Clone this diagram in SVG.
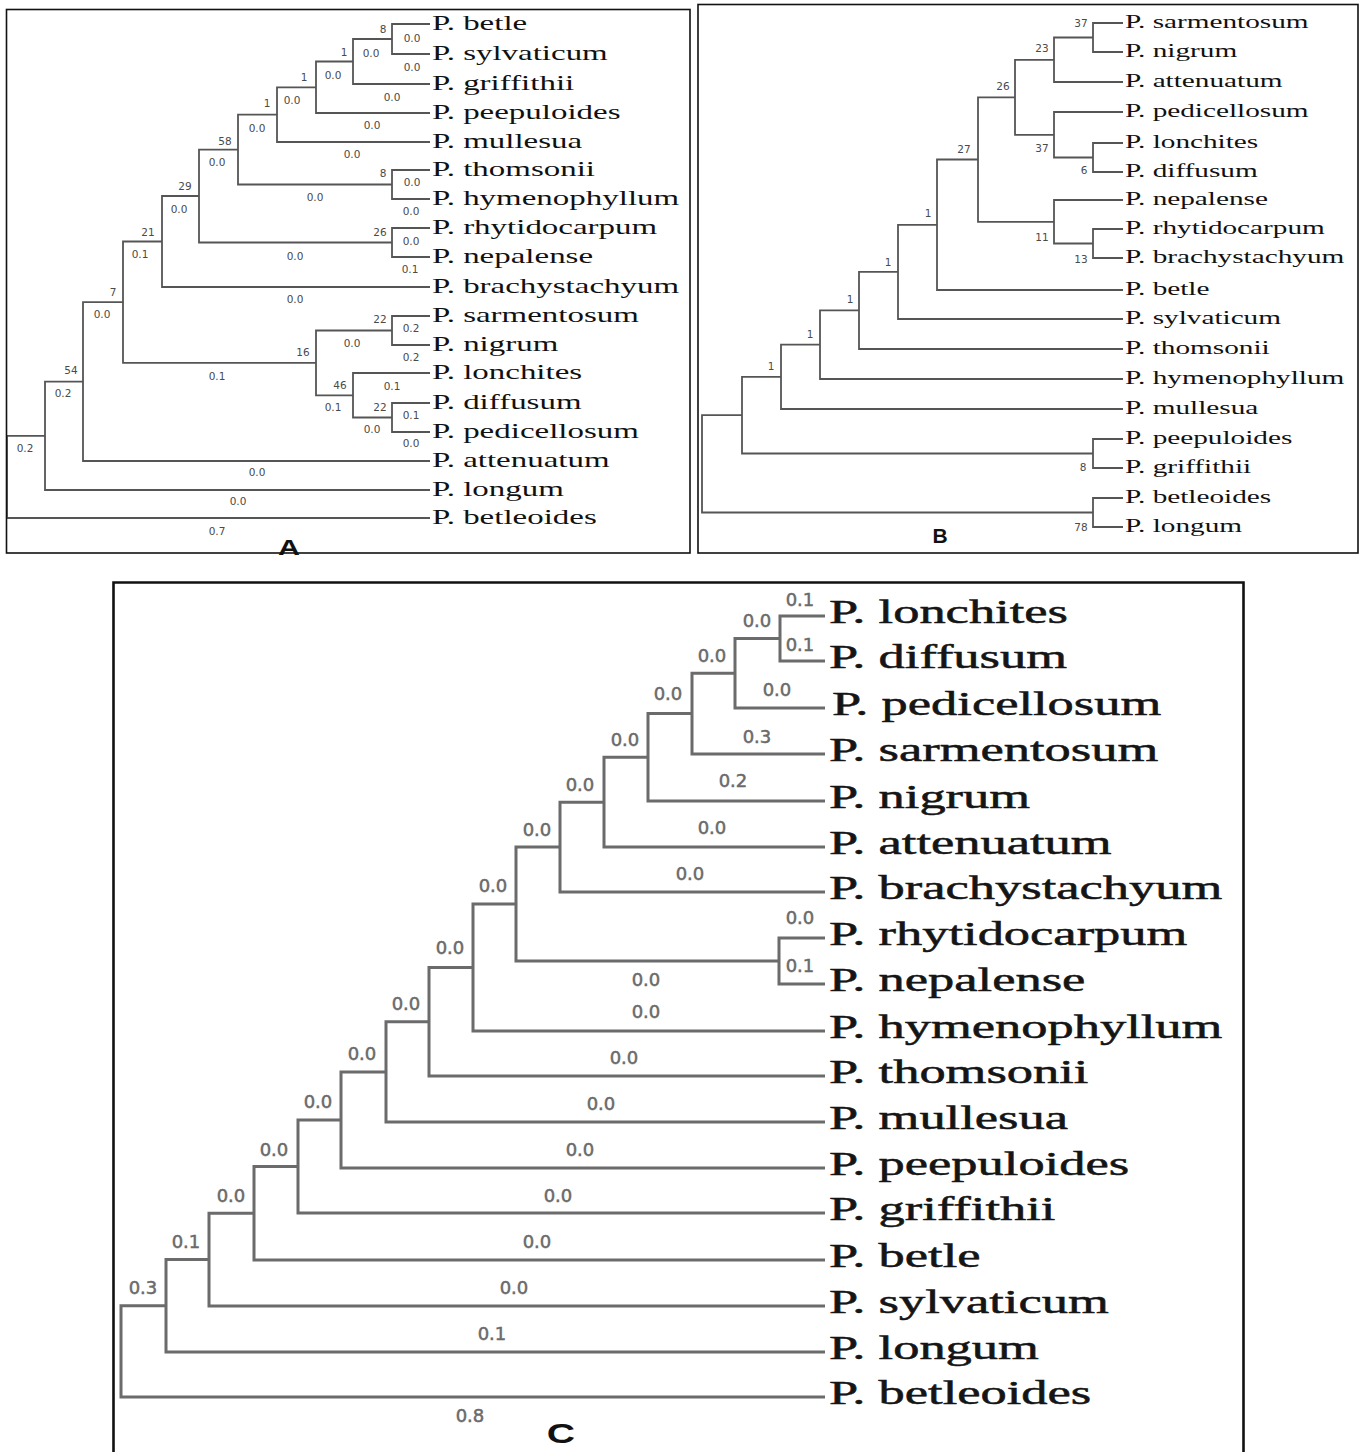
<svg xmlns="http://www.w3.org/2000/svg" width="1363" height="1452" viewBox="0 0 1363 1452">
<style>
.bg{fill:#fff}
.frame{fill:none;stroke:#111;stroke-width:1.6}
.framec{fill:none;stroke:#111;stroke-width:2.6}
.ea{fill:none;stroke:#555;stroke-width:1.8}
.ec{fill:none;stroke:#6b6b6b;stroke-width:3}
.ta{font-family:"Liberation Serif",serif;font-size:21px;fill:#111}
.tb{font-family:"Liberation Serif",serif;font-size:19px;fill:#111}
.tc{font-family:"Liberation Serif",serif;font-size:33px;fill:#151515;stroke:#151515;stroke-width:0.5}
.na{font-family:"DejaVu Sans",sans-serif;font-size:10.5px;fill:#4a4a4a;text-anchor:middle}
.nc{font-family:"DejaVu Sans",sans-serif;font-size:18px;fill:#6a6a6a;stroke:#6a6a6a;stroke-width:0.5;text-anchor:middle}
.pl{font-family:"Liberation Sans",sans-serif;font-weight:bold;fill:#111;text-anchor:middle}
</style>
<rect class="bg" x="0" y="0" width="1363" height="1452"/>

<!-- ================= PANEL A ================= -->
<g id="panel-A">
<g id="A-edges">
<path class="ea" d="M430 24 H392 V54 H430"/>
<path class="ea" d="M392 39 H353 V84 H430"/>
<path class="ea" d="M353 61.5 H316 V113 H430"/>
<path class="ea" d="M316 87.3 H277 V142 H430"/>
<path class="ea" d="M430 170 H392 V199 H430"/>
<path class="ea" d="M277 114.6 H238 V184.5 H392"/>
<path class="ea" d="M430 228 H392 V257 H430"/>
<path class="ea" d="M238 149.6 H199 V242.5 H392"/>
<path class="ea" d="M199 196 H162 V287 H430"/>
<path class="ea" d="M430 316 H392 V345 H430"/>
<path class="ea" d="M430 403 H392 V432 H430"/>
<path class="ea" d="M430 373 H353 V417.5 H392"/>
<path class="ea" d="M392 330.5 H316 V395.3 H353"/>
<path class="ea" d="M162 241.5 H123 V362.9 H316"/>
<path class="ea" d="M123 302.2 H83 V461 H430"/>
<path class="ea" d="M83 381.6 H45 V490 H430"/>
<path class="ea" d="M45 435.8 H7 V518 H430"/>
</g>
<g id="A-branch-lengths">
<text class="na" x="412" y="42">0.0</text>
<text class="na" x="412" y="71">0.0</text>
<text class="na" x="371" y="57">0.0</text>
<text class="na" x="392" y="101">0.0</text>
<text class="na" x="333" y="79">0.0</text>
<text class="na" x="372" y="129">0.0</text>
<text class="na" x="292" y="104">0.0</text>
<text class="na" x="352" y="158">0.0</text>
<text class="na" x="257" y="132">0.0</text>
<text class="na" x="217" y="166">0.0</text>
<text class="na" x="412" y="186">0.0</text>
<text class="na" x="411" y="215">0.0</text>
<text class="na" x="315" y="201">0.0</text>
<text class="na" x="179" y="213">0.0</text>
<text class="na" x="411" y="245">0.0</text>
<text class="na" x="410" y="273">0.1</text>
<text class="na" x="295" y="260">0.0</text>
<text class="na" x="140" y="258">0.1</text>
<text class="na" x="295" y="303">0.0</text>
<text class="na" x="102" y="318">0.0</text>
<text class="na" x="411" y="332">0.2</text>
<text class="na" x="411" y="361">0.2</text>
<text class="na" x="352" y="347">0.0</text>
<text class="na" x="217" y="380">0.1</text>
<text class="na" x="392" y="390">0.1</text>
<text class="na" x="333" y="411">0.1</text>
<text class="na" x="411" y="419">0.1</text>
<text class="na" x="411" y="447">0.0</text>
<text class="na" x="372" y="433">0.0</text>
<text class="na" x="257" y="476">0.0</text>
<text class="na" x="63" y="397">0.2</text>
<text class="na" x="238" y="505">0.0</text>
<text class="na" x="25" y="452">0.2</text>
<text class="na" x="217" y="535">0.7</text>
</g>
<g id="A-bootstrap">
<g id="A-n8a"><text class="na" x="383" y="33">8</text></g>
<g id="A-n1a"><text class="na" x="344" y="56">1</text></g>
<g id="A-n1b"><text class="na" x="304" y="81">1</text></g>
<g id="A-n1c"><text class="na" x="267" y="107">1</text></g>
<g id="A-n58"><text class="na" x="225" y="145">58</text></g>
<g id="A-n8b"><text class="na" x="383" y="177">8</text></g>
<g id="A-n29"><text class="na" x="185" y="190">29</text></g>
<g id="A-n26"><text class="na" x="380" y="236">26</text></g>
<g id="A-n21"><text class="na" x="148" y="236">21</text></g>
<g id="A-n7"><text class="na" x="113" y="296">7</text></g>
<g id="A-n22a"><text class="na" x="380" y="323">22</text></g>
<g id="A-n16"><text class="na" x="303" y="356">16</text></g>
<g id="A-n46"><text class="na" x="340" y="389">46</text></g>
<g id="A-n22b"><text class="na" x="380" y="411">22</text></g>
<g id="A-n54"><text class="na" x="71" y="374">54</text></g>
</g>
<g id="A-leaves">
<g id="A-betle"><text class="ta" transform="translate(432,30) scale(1.57,1)">P. betle</text></g>
<g id="A-sylvaticum"><text class="ta" transform="translate(432,60) scale(1.57,1)">P. sylvaticum</text></g>
<g id="A-griffithii"><text class="ta" transform="translate(432,90) scale(1.57,1)">P. griffithii</text></g>
<g id="A-peepuloides"><text class="ta" transform="translate(432,119) scale(1.57,1)">P. peepuloides</text></g>
<g id="A-mullesua"><text class="ta" transform="translate(432,148) scale(1.57,1)">P. mullesua</text></g>
<g id="A-thomsonii"><text class="ta" transform="translate(432,176) scale(1.57,1)">P. thomsonii</text></g>
<g id="A-hymenophyllum"><text class="ta" transform="translate(432,205) scale(1.57,1)">P. hymenophyllum</text></g>
<g id="A-rhytidocarpum"><text class="ta" transform="translate(432,234) scale(1.57,1)">P. rhytidocarpum</text></g>
<g id="A-nepalense"><text class="ta" transform="translate(432,263) scale(1.57,1)">P. nepalense</text></g>
<g id="A-brachystachyum"><text class="ta" transform="translate(432,293) scale(1.57,1)">P. brachystachyum</text></g>
<g id="A-sarmentosum"><text class="ta" transform="translate(432,322) scale(1.57,1)">P. sarmentosum</text></g>
<g id="A-nigrum"><text class="ta" transform="translate(432,351) scale(1.57,1)">P. nigrum</text></g>
<g id="A-lonchites"><text class="ta" transform="translate(432,379) scale(1.57,1)">P. lonchites</text></g>
<g id="A-diffusum"><text class="ta" transform="translate(432,409) scale(1.57,1)">P. diffusum</text></g>
<g id="A-pedicellosum"><text class="ta" transform="translate(432,438) scale(1.57,1)">P. pedicellosum</text></g>
<g id="A-attenuatum"><text class="ta" transform="translate(432,467) scale(1.57,1)">P. attenuatum</text></g>
<g id="A-longum"><text class="ta" transform="translate(432,496) scale(1.57,1)">P. longum</text></g>
<g id="A-betleoides"><text class="ta" transform="translate(432,524) scale(1.57,1)">P. betleoides</text></g>
</g>
<text class="pl" font-size="22" transform="translate(289,555) scale(1.38,1)">A</text>
<rect class="frame" x="6.5" y="9.5" width="683.5" height="543.5"/>
</g>

<!-- ================= PANEL B ================= -->
<g id="panel-B">
<g id="B-edges">
<path class="ea" d="M1123 23 H1093 V52 H1123"/>
<path class="ea" d="M1093 37.5 H1054 V82 H1123"/>
<path class="ea" d="M1123 143 H1093 V172 H1123"/>
<path class="ea" d="M1123 112 H1054 V157.5 H1093"/>
<path class="ea" d="M1054 59.8 H1015 V134.8 H1054"/>
<path class="ea" d="M1123 229 H1093 V258 H1123"/>
<path class="ea" d="M1123 200 H1054 V243.5 H1093"/>
<path class="ea" d="M1015 97.3 H978 V221.8 H1054"/>
<path class="ea" d="M978 159.5 H937 V290 H1123"/>
<path class="ea" d="M937 224.8 H898 V319 H1123"/>
<path class="ea" d="M898 271.9 H859 V349 H1123"/>
<path class="ea" d="M859 310.4 H820 V379 H1123"/>
<path class="ea" d="M820 344.7 H781 V409 H1123"/>
<path class="ea" d="M1123 439 H1093 V468 H1123"/>
<path class="ea" d="M781 376.9 H742 V453.5 H1093"/>
<path class="ea" d="M1123 498 H1093 V527 H1123"/>
<path class="ea" d="M742 415.2 H702 V512.5 H1093"/>
</g>
<g id="B-bootstrap">
<g id="B-n37a"><text class="na" x="1081" y="27">37</text></g>
<g id="B-n23"><text class="na" x="1042" y="52">23</text></g>
<g id="B-n26"><text class="na" x="1003" y="90">26</text></g>
<g id="B-n37b"><text class="na" x="1042" y="152">37</text></g>
<g id="B-n6"><text class="na" x="1084" y="174">6</text></g>
<g id="B-n27"><text class="na" x="964" y="153">27</text></g>
<g id="B-n11"><text class="na" x="1042" y="241">11</text></g>
<g id="B-n13"><text class="na" x="1081" y="263">13</text></g>
<g id="B-n1a"><text class="na" x="928" y="217">1</text></g>
<g id="B-n1b"><text class="na" x="888" y="266">1</text></g>
<g id="B-n1c"><text class="na" x="850" y="303">1</text></g>
<g id="B-n1d"><text class="na" x="810" y="338">1</text></g>
<g id="B-n1e"><text class="na" x="771" y="370">1</text></g>
<g id="B-n8"><text class="na" x="1083" y="471">8</text></g>
<g id="B-n78"><text class="na" x="1081" y="531">78</text></g>
</g>
<g id="B-leaves">
<g id="B-sarmentosum"><text class="tb" transform="translate(1125,28) scale(1.54,1)">P. sarmentosum</text></g>
<g id="B-nigrum"><text class="tb" transform="translate(1125,57) scale(1.54,1)">P. nigrum</text></g>
<g id="B-attenuatum"><text class="tb" transform="translate(1125,87) scale(1.54,1)">P. attenuatum</text></g>
<g id="B-pedicellosum"><text class="tb" transform="translate(1125,117) scale(1.54,1)">P. pedicellosum</text></g>
<g id="B-lonchites"><text class="tb" transform="translate(1125,148) scale(1.54,1)">P. lonchites</text></g>
<g id="B-diffusum"><text class="tb" transform="translate(1125,177) scale(1.54,1)">P. diffusum</text></g>
<g id="B-nepalense"><text class="tb" transform="translate(1125,205) scale(1.54,1)">P. nepalense</text></g>
<g id="B-rhytidocarpum"><text class="tb" transform="translate(1125,234) scale(1.54,1)">P. rhytidocarpum</text></g>
<g id="B-brachystachyum"><text class="tb" transform="translate(1125,263) scale(1.54,1)">P. brachystachyum</text></g>
<g id="B-betle"><text class="tb" transform="translate(1125,295) scale(1.54,1)">P. betle</text></g>
<g id="B-sylvaticum"><text class="tb" transform="translate(1125,324) scale(1.54,1)">P. sylvaticum</text></g>
<g id="B-thomsonii"><text class="tb" transform="translate(1125,354) scale(1.54,1)">P. thomsonii</text></g>
<g id="B-hymenophyllum"><text class="tb" transform="translate(1125,384) scale(1.54,1)">P. hymenophyllum</text></g>
<g id="B-mullesua"><text class="tb" transform="translate(1125,414) scale(1.54,1)">P. mullesua</text></g>
<g id="B-peepuloides"><text class="tb" transform="translate(1125,444) scale(1.54,1)">P. peepuloides</text></g>
<g id="B-griffithii"><text class="tb" transform="translate(1125,473) scale(1.54,1)">P. griffithii</text></g>
<g id="B-betleoides"><text class="tb" transform="translate(1125,503) scale(1.54,1)">P. betleoides</text></g>
<g id="B-longum"><text class="tb" transform="translate(1125,532) scale(1.54,1)">P. longum</text></g>
</g>
<text class="pl" font-size="21" x="940" y="543">B</text>
<rect class="frame" x="698" y="4.5" width="660" height="548.5"/>
</g>

<!-- ================= PANEL C ================= -->
<g id="panel-C">
<g id="C-edges">
<path class="ec" d="M825 616 H780 V661 H825"/>
<path class="ec" d="M780 638.5 H735 V708 H825"/>
<path class="ec" d="M735 673.3 H692 V754 H825"/>
<path class="ec" d="M692 713.6 H648 V801 H825"/>
<path class="ec" d="M648 757.3 H604 V847 H825"/>
<path class="ec" d="M604 802.2 H560 V892 H825"/>
<path class="ec" d="M825 938 H779 V984 H825"/>
<path class="ec" d="M560 847.1 H516 V961 H779"/>
<path class="ec" d="M516 904 H473 V1031 H825"/>
<path class="ec" d="M473 967.5 H429 V1076 H825"/>
<path class="ec" d="M429 1021.8 H386 V1122 H825"/>
<path class="ec" d="M386 1071.9 H341 V1168 H825"/>
<path class="ec" d="M341 1120 H298 V1213 H825"/>
<path class="ec" d="M298 1166.5 H254 V1260 H825"/>
<path class="ec" d="M254 1213.2 H209 V1306 H825"/>
<path class="ec" d="M209 1259.6 H166 V1352 H825"/>
<path class="ec" d="M166 1305.8 H121 V1397 H825"/>
</g>
<g id="C-branch-lengths">
<text class="nc" x="800" y="606">0.1</text>
<text class="nc" x="800" y="651">0.1</text>
<text class="nc" x="757" y="627">0.0</text>
<text class="nc" x="777" y="696">0.0</text>
<text class="nc" x="712" y="662">0.0</text>
<text class="nc" x="757" y="743">0.3</text>
<text class="nc" x="668" y="700">0.0</text>
<text class="nc" x="733" y="787">0.2</text>
<text class="nc" x="625" y="746">0.0</text>
<text class="nc" x="712" y="834">0.0</text>
<text class="nc" x="580" y="791">0.0</text>
<text class="nc" x="690" y="880">0.0</text>
<text class="nc" x="537" y="836">0.0</text>
<text class="nc" x="800" y="924">0.0</text>
<text class="nc" x="800" y="972">0.1</text>
<text class="nc" x="646" y="986">0.0</text>
<text class="nc" x="493" y="892">0.0</text>
<text class="nc" x="646" y="1018">0.0</text>
<text class="nc" x="450" y="954">0.0</text>
<text class="nc" x="624" y="1064">0.0</text>
<text class="nc" x="406" y="1010">0.0</text>
<text class="nc" x="601" y="1110">0.0</text>
<text class="nc" x="362" y="1060">0.0</text>
<text class="nc" x="580" y="1156">0.0</text>
<text class="nc" x="318" y="1108">0.0</text>
<text class="nc" x="558" y="1202">0.0</text>
<text class="nc" x="274" y="1156">0.0</text>
<text class="nc" x="537" y="1248">0.0</text>
<text class="nc" x="231" y="1202">0.0</text>
<text class="nc" x="514" y="1294">0.0</text>
<text class="nc" x="186" y="1248">0.1</text>
<text class="nc" x="492" y="1340">0.1</text>
<text class="nc" x="143" y="1294">0.3</text>
<text class="nc" x="470" y="1422">0.8</text>
</g>
<g id="C-leaves">
<g id="C-lonchites"><text class="tc" transform="translate(829,623) scale(1.59,1)">P. lonchites</text></g>
<g id="C-diffusum"><text class="tc" transform="translate(829,668) scale(1.59,1)">P. diffusum</text></g>
<g id="C-pedicellosum"><text class="tc" transform="translate(832,715) scale(1.59,1)">P. pedicellosum</text></g>
<g id="C-sarmentosum"><text class="tc" transform="translate(829,761) scale(1.59,1)">P. sarmentosum</text></g>
<g id="C-nigrum"><text class="tc" transform="translate(829,808) scale(1.59,1)">P. nigrum</text></g>
<g id="C-attenuatum"><text class="tc" transform="translate(829,854) scale(1.59,1)">P. attenuatum</text></g>
<g id="C-brachystachyum"><text class="tc" transform="translate(829,899) scale(1.59,1)">P. brachystachyum</text></g>
<g id="C-rhytidocarpum"><text class="tc" transform="translate(829,945) scale(1.59,1)">P. rhytidocarpum</text></g>
<g id="C-nepalense"><text class="tc" transform="translate(829,991) scale(1.59,1)">P. nepalense</text></g>
<g id="C-hymenophyllum"><text class="tc" transform="translate(829,1038) scale(1.59,1)">P. hymenophyllum</text></g>
<g id="C-thomsonii"><text class="tc" transform="translate(829,1083) scale(1.59,1)">P. thomsonii</text></g>
<g id="C-mullesua"><text class="tc" transform="translate(829,1129) scale(1.59,1)">P. mullesua</text></g>
<g id="C-peepuloides"><text class="tc" transform="translate(829,1175) scale(1.59,1)">P. peepuloides</text></g>
<g id="C-griffithii"><text class="tc" transform="translate(829,1220) scale(1.59,1)">P. griffithii</text></g>
<g id="C-betle"><text class="tc" transform="translate(829,1267) scale(1.59,1)">P. betle</text></g>
<g id="C-sylvaticum"><text class="tc" transform="translate(829,1313) scale(1.59,1)">P. sylvaticum</text></g>
<g id="C-longum"><text class="tc" transform="translate(829,1359) scale(1.59,1)">P. longum</text></g>
<g id="C-betleoides"><text class="tc" transform="translate(829,1404) scale(1.59,1)">P. betleoides</text></g>
</g>
<text class="pl" font-size="28" transform="translate(561,1443) scale(1.4,1)">C</text>
<path class="framec" d="M113.5 1452 V582.5 H1243.5 V1452"/>
</g>
</svg>
